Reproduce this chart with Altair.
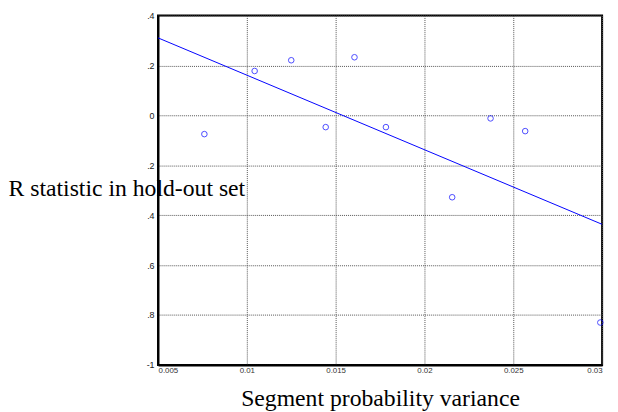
import altair as alt
import pandas as pd

# Data
variance = [0.00761, 0.01044, 0.0125, 0.01444, 0.01606, 0.01783, 0.02156, 0.02372, 0.02567, 0.0299]
r_stat = [-0.075, 0.178, 0.221, -0.047, 0.233, -0.047, -0.328, -0.012, -0.063, -0.83]

x_ticks = [0.005, 0.01, 0.015, 0.02, 0.025, 0.03]
x_labels = ["0.005", "0.01", "0.015", "0.02", "0.025", "0.03"]
y_ticks = [0.4, 0.2, 0.0, -0.2, -0.4, -0.6, -0.8, -1.0]
y_labels = [".4", ".2", "0", ".2", ".4", ".6", ".8", "-1"]

df = pd.DataFrame({"x": variance, "y": r_stat})


def label_expr(ticks, labels):
    expr = "''"
    for t, l in zip(reversed(ticks), reversed(labels)):
        expr = f"abs(datum.value - ({t})) < 1e-9 ? '{l}' : ({expr})"
    return expr


x_scale = alt.Scale(domain=[0.005, 0.03], nice=False, zero=False)
y_scale = alt.Scale(domain=[-1.0, 0.4], nice=False, zero=False)

x_axis = alt.Axis(
    values=x_ticks,
    labelExpr=label_expr(x_ticks, x_labels),
    title="Segment probability variance",
    titleFont="Liberation Serif",
    titleFontSize=24,
    titleFontWeight="normal",
    titleColor="black",
    titleBaseline="alphabetic",
    titleX=225,
    titleY=41,
    labelFont="Liberation Sans",
    labelFontSize=8,
    labelColor="#333",
    labelPadding=2,
    ticks=False,
    domain=True,
    domainColor="black",
    domainWidth=2,
    grid=True,
    gridColor="#555",
    gridWidth=1,
    gridDash=[1, 1],
)

y_axis = alt.Axis(
    values=y_ticks,
    labelExpr=label_expr(y_ticks, y_labels),
    title="R statistic in hold-out set",
    titleFont="Liberation Serif",
    titleFontSize=24,
    titleFontWeight="normal",
    titleColor="black",
    titleAngle=0,
    titleAlign="left",
    titleBaseline="alphabetic",
    titleX=-152,
    titleY=182,
    labelFont="Liberation Sans",
    labelFontSize=9,
    labelColor="#222",
    labelPadding=4,
    ticks=False,
    domain=True,
    domainColor="black",
    domainWidth=2,
    grid=True,
    gridColor="#555",
    gridWidth=1,
    gridDash=[1, 1],
)

base = alt.Chart(df)

points = base.mark_point(
    shape="circle", filled=False, color="#0000ff", size=32, strokeWidth=1
).encode(
    x=alt.X("x:Q", scale=x_scale, axis=x_axis),
    y=alt.Y("y:Q", scale=y_scale, axis=y_axis),
)

fit = base.transform_regression(
    "x", "y", extent=[0.005, 0.03]
).mark_line(color="#0000ff", strokeWidth=1, clip=True).encode(
    x=alt.X("x:Q", scale=x_scale),
    y=alt.Y("y:Q", scale=y_scale),
)

chart = alt.layer(fit, points).properties(
    width=450,
    height=354,
    background="white",
    autosize=alt.AutoSizeParams(type="none"),
    padding={"left": 152, "top": 5, "right": 8, "bottom": 45},
).configure_view(
    stroke="black", strokeWidth=2
)

chart.save("out.html", embed_options={"renderer": "svg", "actions": False})
